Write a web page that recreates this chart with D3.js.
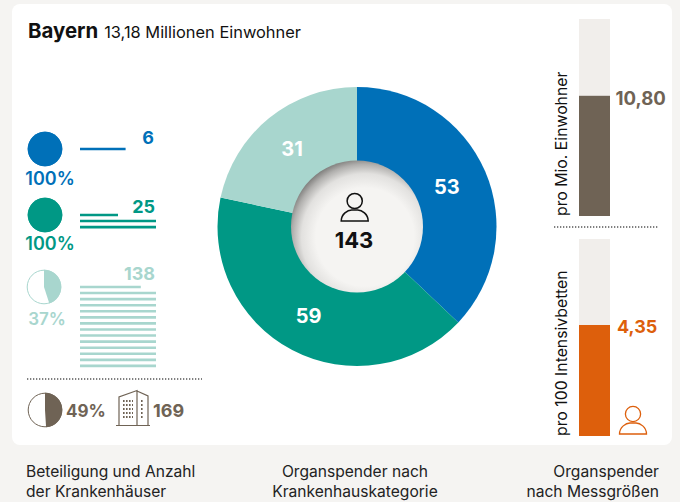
<!DOCTYPE html>
<html><head><meta charset="utf-8">
<script src="https://cdn.jsdelivr.net/npm/d3@7/dist/d3.min.js"></script>
<style>html,body{margin:0;padding:0;background:#f5f4f2}svg{display:block}text{font-family:Inter,"Noto Sans",sans-serif}</style>
</head><body><svg id="c" width="680" height="502"></svg>
<script>
const donutCategories=["Universitätskliniken","Schwerpunkt","Sonstige"];
const donutValues=[53,59,31];
const donutColors=["#0070b8","#009885","#a8d6ce"];
const totalDonors=143;
const hospitalCounts=[6,25,138];
const hospitalShares=[100,100,45];
const hospitalShareLabels=["100%","100%","37%"];
const hospitalTotalShare=49;
const hospitalTotal=169;
const measureLabels=["pro Mio. Einwohner","pro 100 Intensivbetten"];
const measureValues=[10.80,4.35];
const measureText=["10,80","4,35"];
const measureMax=[17.7,7.72];
const measureColors=["#6f6355","#dd5f0c"];
const footers=[["Beteiligung und Anzahl","der Krankenhäuser"],["Organspender nach","Krankenhauskategorie"],["Organspender","nach Messgrößen"]];

const svg=d3.select("#c");
const defs=svg.append("defs");
const g1=defs.append("radialGradient").attr("id","hole").attr("cx",0.56).attr("cy",0.58).attr("r",0.6).attr("fx",0.56).attr("fy",0.58);
[[0,"#f5f4f2"],[0.62,"#f5f4f2"],[0.8,"#e2e1df"],[0.92,"#b0afad"],[1,"#807f7d"]].forEach(s=>g1.append("stop").attr("offset",s[0]).attr("stop-color",s[1]));
svg.append("rect").attr("x",12).attr("y",4).attr("width",660).attr("height",441).attr("rx",8).attr("fill","#fff");

// title
const title=svg.append("text").attr("x",28).attr("y",38).attr("fill","#111");
title.append("tspan").attr("font-size",20.4).attr("font-weight",700).text("Bayern");
title.append("tspan").attr("dx",6).attr("font-size",16.4).text("13,18 Millionen Einwohner");

// donut
const cx=357,cy=226.5;
const pie=d3.pie().sort(null)(donutValues);
const arc=d3.arc().innerRadius(0).outerRadius(139.5);
const dg=svg.append("g").attr("transform",`translate(${cx},${cy})`);
dg.selectAll("path").data(pie).join("path").attr("d",arc).attr("fill",(d,i)=>donutColors[i]);
const lab=d3.arc().innerRadius(100).outerRadius(100);
dg.selectAll("text").data(pie).join("text").attr("transform",d=>`translate(${lab.centroid(d)})`)
 .attr("text-anchor","middle").attr("dx",-2).attr("dy",7.5).attr("fill","#fff").attr("font-weight",700).attr("font-size",20).text(d=>d.data);
dg.append("circle").attr("r",66).attr("fill","url(#hole)");
function person(g,x,y,col,sw){
  const p=g.append("g").attr("transform",`translate(${x},${y})`).attr("fill","none").attr("stroke",col).attr("stroke-width",sw);
  p.append("circle").attr("cy",-8).attr("r",7.6);
  p.append("path").attr("d","M-13.5,12 C-13.5,5 -7,1 -3,1 H3 C7,1 13.5,5 13.5,12 Z");
}
person(dg,-2.3,-17.5,"#111",1.5);
dg.append("text").attr("text-anchor","middle").attr("x",-3).attr("y",21.5).attr("font-weight",700).attr("font-size",22).attr("fill","#111").text(totalDonors);

// left: share pies and count lines
const pieXs=[45,45,44], pieR=17.3;
const labelY=[185,250,325];
const labelX=[50,50,47];
const labelSize=[18,18,17];
const numberX=[154,155,155];
const numberY=[144,213,280];
const colorsLeft=donutColors;
const unit=10;
const x=d3.scaleLinear().domain([0,unit]).range([80,156]);
const pieCy=[149,215,287];
const sp=d3.scaleLinear().domain([0,100]).range([0,2*Math.PI]);
function sharePie(cxp,cyp,share,col,start){
  const g=svg.append("g").attr("transform",`translate(${cxp},${cyp})`);
  g.append("circle").attr("r",pieR-0.5).attr("fill","#fff").attr("stroke",col).attr("stroke-width",1);
  g.append("path").attr("fill",col).attr("d",d3.arc().innerRadius(0).outerRadius(pieR)({startAngle:start,endAngle:start+sp(share)}));
}
hospitalCounts.forEach((v,i)=>{
  sharePie(pieXs[i],pieCy[i],hospitalShares[i],colorsLeft[i],0);
  svg.append("text").attr("x",labelX[i]).attr("y",labelY[i]).attr("text-anchor","middle").attr("font-weight",600).attr("font-size",labelSize[i]).attr("fill",colorsLeft[i]).text(hospitalShareLabels[i]);
  svg.append("text").attr("x",numberX[i]).attr("y",numberY[i]).attr("text-anchor","end").attr("font-weight",700).attr("font-size",18).attr("fill",colorsLeft[i]).text(v);
  const n=Math.ceil(v/unit), rest=v-(n-1)*unit;
  const rows=d3.range(n).map(k=>k===0?rest:unit);
  const top=pieCy[i];
  svg.append("g").selectAll("line").data(rows).join("line")
    .attr("x1",x(0)).attr("x2",d=>x(d)).attr("y1",(d,k)=>top+k*6.07).attr("y2",(d,k)=>top+k*6.07)
    .attr("stroke",colorsLeft[i]).attr("stroke-width",2.6);
});
const dot=(x1,x2,y)=>svg.append("line").attr("x1",x1).attr("x2",x2).attr("y1",y).attr("y2",y).attr("stroke","#555").attr("stroke-width",1.3).attr("stroke-dasharray","1.3 1.7");
dot(27,202,379);
dot(554,659,227);

// bottom left
const brown=measureColors[0];
sharePie(45,410,hospitalTotalShare,brown,0);
svg.append("text").attr("x",66).attr("y",417).attr("font-weight",700).attr("font-size",17).attr("fill",brown).text(hospitalTotalShare+"%");
const b=svg.append("g").attr("fill","none").attr("stroke",brown).attr("stroke-width",1.2);
b.append("path").attr("d","M116,425.5 H150 M119,425 V397 L137,390.5 V425 M137,391 L148,396 V425");
b.append("path").attr("stroke-width",1.8).attr("stroke-dasharray","1.6 1.4").attr("d","M123,401 H133 M123,405 H133 M123,409 H133 M123,413 H133 M123,417 H133 M141,401 H144 M141,405 H144 M141,409 H144 M141,413 H144 M141,417 H144");
svg.append("text").attr("x",153).attr("y",417).attr("font-weight",700).attr("font-size",18).attr("fill",brown).text(hospitalTotal);

// right bars
const barTops=[19,239], barH=197, barX=579, barW=31;
measureValues.forEach((v,i)=>{
  const y=d3.scaleLinear().domain([0,measureMax[i]]).range([barTops[i]+barH,barTops[i]]);
  svg.append("rect").attr("x",barX).attr("width",barW).attr("y",barTops[i]).attr("height",barH).attr("fill","#f1eeeb");
  svg.append("rect").attr("x",barX).attr("width",barW).attr("y",y(v)).attr("height",y(0)-y(v)).attr("fill",measureColors[i]);
  svg.append("text").attr("x",[615.5,617][i]).attr("y",y(v)+[9,8][i]).attr("font-weight",700).attr("font-size",[18.6,18][i]).attr("fill",measureColors[i]).text(measureText[i]);
  svg.append("text").attr("transform",`translate(567,${barTops[i]+barH}) rotate(-90)`).attr("font-size",15.8).attr("fill","#111").text(measureLabels[i]);
});
person(svg,633,422,measureColors[1],1.3);

// footers
[[26,"start"],[355,"middle"],[659,"end"]].forEach((p,i)=>{
  footers[i].forEach((t,k)=>svg.append("text").attr("x",p[0]).attr("y",477+k*19.5).attr("text-anchor",p[1]).attr("font-size",15.6).attr("fill","#222").text(t));
});
</script></body></html>
